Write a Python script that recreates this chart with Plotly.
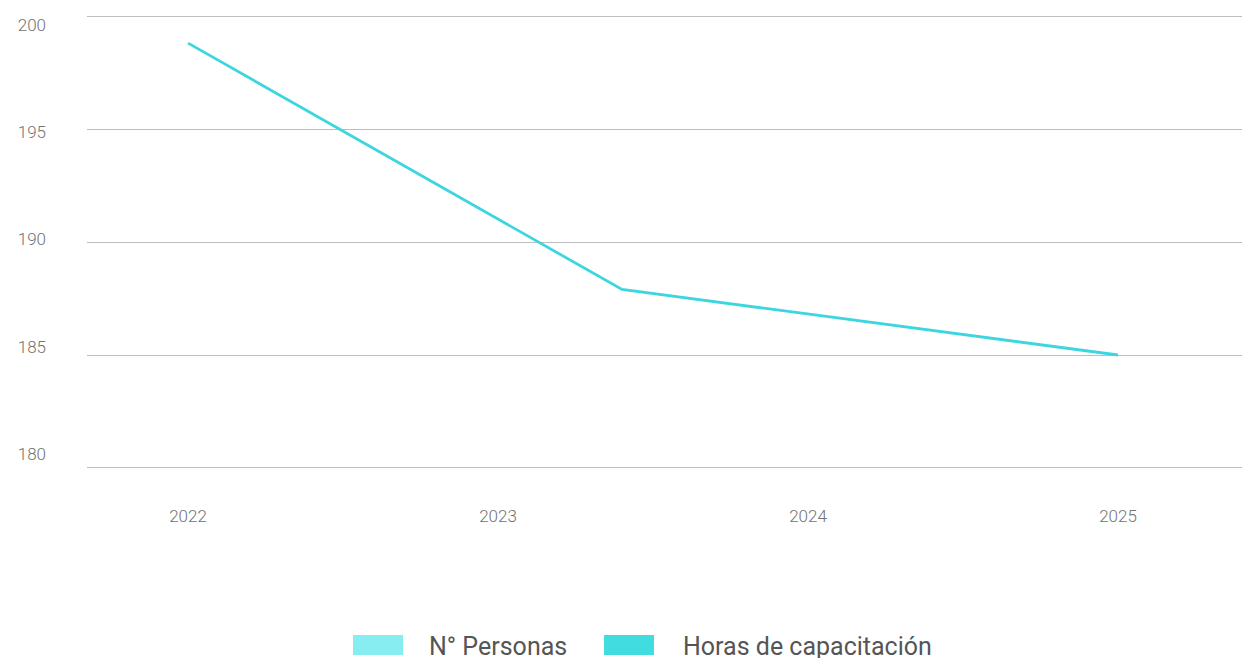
import plotly.graph_objects as go

# Data
years = [2022, 2023, 2024, 2025]
line_x = [2022, 2023.4, 2025]
horas = [198.8, 187.9, 185.0]
y_ticks = [180, 185, 190, 195, 200]
legend_labels = ["N° Personas", "Horas de capacitación"]
legend_colors = ["#87edf1", "#40dce0"]

W, H = 1242, 658
L, R, T, B = 87, 0, 5, 179
PW, PH = W - L - R, H - T - B


def px_x(p):
    return (p - L) / PW


def px_y(p):
    return (H - B - p) / PH


fig = go.Figure()
fig.add_trace(go.Scatter(
    x=line_x, y=horas, mode="lines",
    line=dict(color="#3dd6e0", width=2.8),
    showlegend=False, hoverinfo="skip",
))
# invisible trace to anchor the label axis
fig.add_trace(go.Scatter(
    x=line_x, y=horas, mode="lines", yaxis="y2",
    line=dict(width=0), opacity=0, showlegend=False, hoverinfo="skip",
))

tick_font = dict(family="Roboto", size=17, color="#727272", weight=300)

fig.update_layout(
    width=W, height=H,
    margin=dict(l=L, r=R, t=T, b=B),
    paper_bgcolor="white", plot_bgcolor="white",
    showlegend=False,
    xaxis=dict(
        range=[2021.674, 2025.4], tickvals=years, ticktext=[str(y) for y in years],
        showgrid=False, zeroline=False, showline=False, ticks="",
        tickfont=tick_font, ticklabelstandoff=25,
    ),
    yaxis=dict(
        range=[179.513, 200.487], tickvals=y_ticks, showticklabels=False,
        showgrid=True, gridcolor="#bdbdbd", gridwidth=1,
        zeroline=False, showline=False, ticks="",
    ),
    yaxis2=dict(
        overlaying="y", side="left", range=[178.834, 200.932],
        tickvals=y_ticks, showgrid=False, zeroline=False, showline=False,
        ticks="", tickfont=tick_font, ticklabelstandoff=40,
    ),
)

# custom legend with wide swatches
sw_x = [(353, 403), (604, 654)]
tx_x = [427, 681]
for (x0, x1), tx, lab, col in zip(sw_x, tx_x, legend_labels, legend_colors):
    fig.add_shape(type="rect", xref="paper", yref="paper",
                  x0=px_x(x0), x1=px_x(x1), y0=px_y(655), y1=px_y(635),
                  fillcolor=col, line=dict(width=0))
    fig.add_annotation(xref="paper", yref="paper", x=px_x(tx), y=px_y(646),
                       xanchor="left", yanchor="middle", showarrow=False,
                       text=lab, font=dict(family="Roboto", size=25, color="#555555"))

fig.write_html("out.html", config={"displayModeBar": False},
               post_script="document.body.style.margin='0';")
